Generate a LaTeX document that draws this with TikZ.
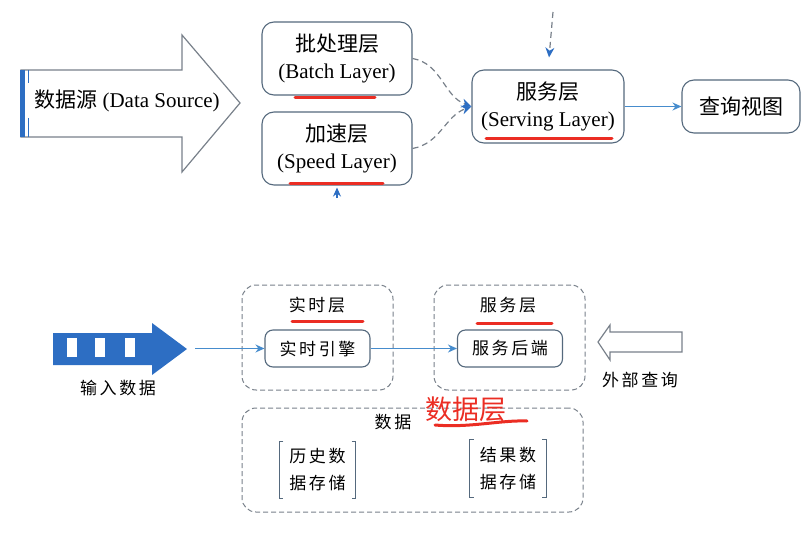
\documentclass[tikz,border=0pt]{standalone}
\usepackage{fontspec}
\setmainfont{Liberation Serif}
\newfontfamily\cjk{Noto Sans CJK SC}
\newfontfamily\cjksp[LetterSpace=15]{Noto Sans CJK SC}
\usepackage{xcolor}
\usetikzlibrary{arrows.meta}
\definecolor{lblue}{RGB}{45,110,195}
\definecolor{llink}{RGB}{70,140,205}
\definecolor{lgray}{RGB}{120,128,138}
\definecolor{lred}{RGB}{235,45,35}
\definecolor{lbox}{RGB}{85,105,125}

\begin{document}
\begin{tikzpicture}[x=1pt,y=1pt,
  layer/.style={draw=lbox,line width=1.1pt,rounded corners=12pt,align=center,font=\fontsize{21}{27}\selectfont},
  unit/.style={draw=lbox,line width=1.1pt,rounded corners=8pt,minimum width=105pt,minimum height=37pt,font=\cjksp\fontsize{17}{22}\selectfont},
  store/.style={align=center,minimum width=76pt,minimum height=57pt,font=\cjksp\fontsize{17}{27}\selectfont},
  group/.style={draw=lgray,dash pattern=on 5pt off 3pt,line width=1pt,rounded corners=14pt},
  tag/.style={font=\cjksp\fontsize{17}{22}\selectfont},
  redmark/.style={draw=lred,line width=3pt,line cap=round},
  dashlink/.style={draw=lgray,dash pattern=on 6pt off 4pt,line width=1.2pt,-{Stealth[length=10pt,width=9pt,color=lblue]}},
  link/.style={draw=llink,line width=1.1pt,-{Stealth[length=9pt,width=8pt]}}
]
\useasboundingbox (0,0) rectangle (812,-535);

%data source arrow
\draw[lgray,line width=1.2pt] (21,-70) -- (182,-70) -- (182,-35) -- (240,-103) -- (182,-172) -- (182,-137) -- (21,-137) -- cycle;
\fill[lblue] (20,-70) rectangle (25,-137);
\draw[lblue,line width=1pt] (28,-70) -- (28,-83) (28,-118) -- (28,-137);
\node (src) at (127,-101) {\fontsize{21}{24}\selectfont{\cjk 数据源} (Data Source)};

%layers
\node[layer,minimum width=150pt,minimum height=73pt] (batch) at (337,-58.5) {{\cjk 批处理层}\\(Batch Layer)};
\node[layer,minimum width=150pt,minimum height=73pt] (speed) at (337,-148.5) {{\cjk 加速层}\\(Speed Layer)};
\node[layer,minimum width=152pt,minimum height=73pt] (serving) at (548,-106.5) {{\cjk 服务层}\\(Serving Layer)};
\node[layer,minimum width=118pt,minimum height=53pt] (query) at (741,-106.5) {\cjk 查询视图};

%links
\coordinate (feed) at (553,-12);
\coordinate (spd) at (337,-198);
\draw[dashlink] (batch.east) to[out=-10,in=160] (serving.west);
\draw[dashlink] (speed.east) to[out=10,in=200] (serving.west);
\draw[dashlink,shorten >=12pt] (feed) -- (serving.north);
\draw[link,draw=lblue,shorten >=2pt] (spd) -- (speed.south);
\draw[link] (serving.east) -- (query.west);

%underlines
\draw[redmark] (295,-98) -- (375,-98);
\draw[redmark] (290,-183) -- (383,-183);
\draw[redmark] (486,-138) -- (612,-138);

%input arrow
\fill[lblue] (53,-333) -- (152,-333) -- (152,-323) -- (187,-349) -- (152,-375) -- (152,-365) -- (53,-365) -- cycle;
\foreach \x in {67,95,125}{
  \fill[white] (\x,-338) rectangle ++(10,-19);
}
\node[tag] (inlabel) at (118,-388) {输入数据};

%groups
\node[group,minimum width=151pt,minimum height=105pt] (rtgroup) at (317.5,-337.5) {};
\node[group,minimum width=151pt,minimum height=105pt] (svgroup) at (509.5,-337.5) {};
\node[group,minimum width=341pt,minimum height=104pt] (datagroup) at (412.5,-460) {};
\node[tag] (rtlabel) at (317,-305) {实时层};
\node[tag] (svlabel) at (508,-305) {服务层};
\node[tag] (datalabel) at (393,-422) {数据};
\node[text=lred,font=\cjk\fontsize{27}{30}\selectfont] (datared) at (466,-409) {数据层};

%units
\node[unit] (engine) at (317.5,-348.5) {实时引擎};
\node[unit] (backend) at (510,-348.5) {服务后端};
\coordinate (inp) at (195,-348.5);
\draw[link] (inp) -- (engine.west);
\draw[link] (engine.east) -- (backend.west);

%external query arrow
\draw[lgray,line width=1.2pt] (682,-332) -- (610,-332) -- (610,-325) -- (598,-342) -- (610,-360) -- (610,-352) -- (682,-352) -- cycle;
\node[tag] (extlabel) at (640,-380) {外部查询};

%storage
\node[store] (hist) at (317.5,-470) {历史数\\据存储};
\node[store] (result) at (508,-468.5) {结果数\\据存储};
\foreach \s in {hist,result}{
  \draw[lbox,line width=1pt] ([xshift=4pt]\s.north west) -- (\s.north west) -- (\s.south west) -- ([xshift=4pt]\s.south west);
  \draw[lbox,line width=1pt] ([xshift=-4pt]\s.north east) -- (\s.north east) -- (\s.south east) -- ([xshift=-4pt]\s.south east);
}

%underlines
\draw[redmark] (292,-321) -- (363,-321);
\draw[redmark] (477,-323) -- (552,-323);
\draw[redmark] (435,-425) .. controls (470,-428) and (500,-420) .. (527,-421);

\end{tikzpicture}
\end{document}
